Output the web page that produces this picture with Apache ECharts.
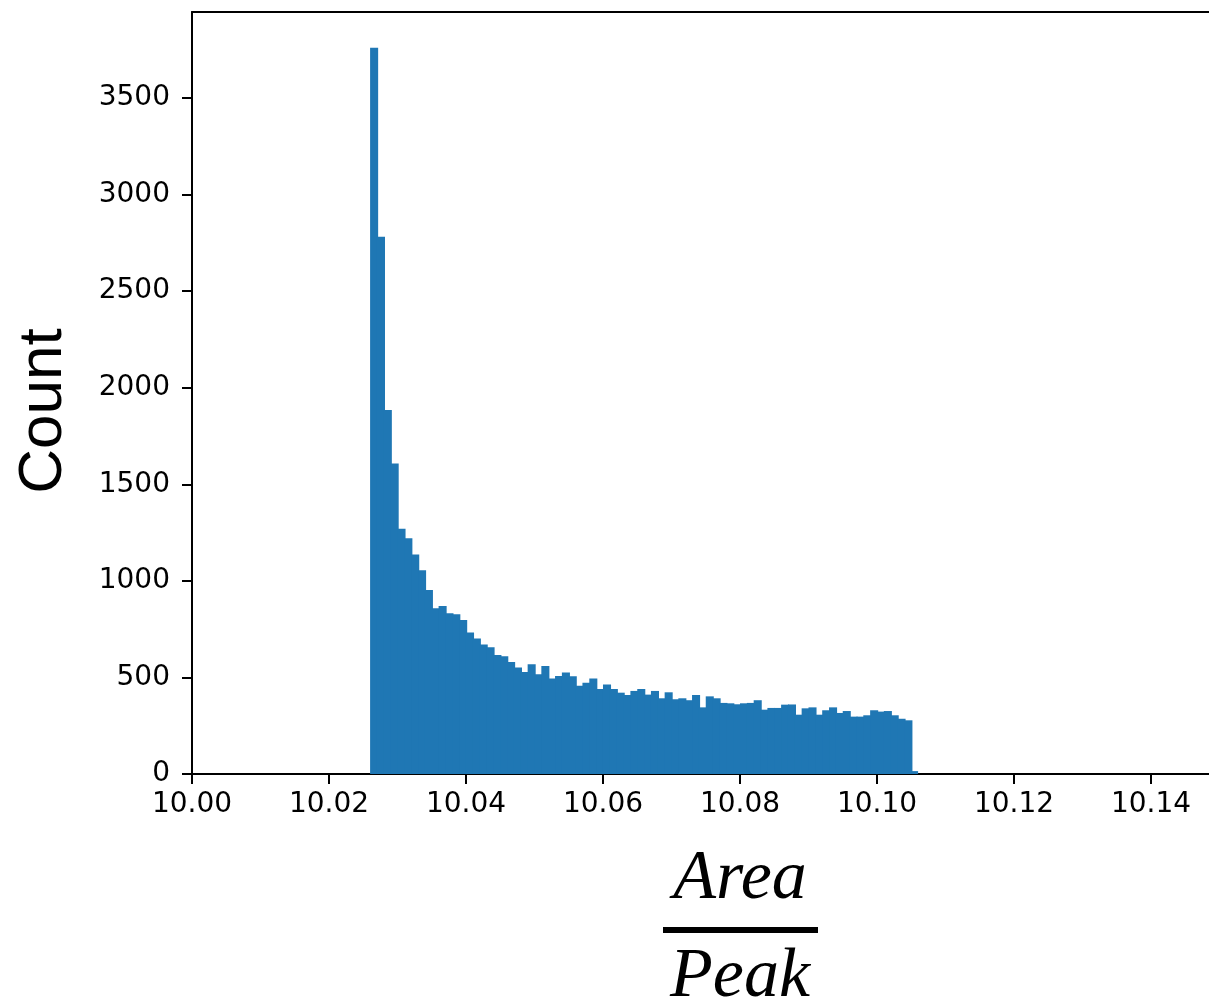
<!DOCTYPE html>
<html>
<head>
<meta charset="utf-8">
<style>
  html, body { margin: 0; padding: 0; background: #ffffff; }
  #chart { width: 1209px; height: 1007px; }
</style>
<script src="https://cdn.jsdelivr.net/npm/echarts@6/dist/echarts.min.js"></script>
</head>
<body>
<div id="chart"></div>
<script>
// Histogram bins: start at 10.026, width 0.001 (80 bins)
const binStart = 10.026;
const binWidth = 0.001;
const counts = [
  3760, 2782, 1885, 1607, 1270, 1220, 1137, 1055, 953, 858,
  870, 832, 827, 797, 732, 702, 671, 656, 616, 609,
  580, 552, 528, 568, 516, 559, 495, 507, 526, 506,
  457, 473, 495, 440, 464, 440, 421, 409, 430, 440,
  411, 430, 392, 423, 387, 392, 382, 409, 345, 402,
  392, 368, 366, 361, 366, 368, 382, 333, 342, 342,
  359, 360, 307, 340, 345, 307, 330, 345, 316, 326,
  297, 297, 304, 330, 323, 326, 304, 286, 278, 15
];
const xTicks = [10.00, 10.02, 10.04, 10.06, 10.08, 10.10, 10.12, 10.14];
const yTicks = [0, 500, 1000, 1500, 2000, 2500, 3000, 3500];
const yLabel = 'Count';
const xLabelNum = 'Area';
const xLabelDen = 'Peak';

const data = counts.map((c, i) => {
  const s = +(binStart + i * binWidth).toFixed(3);
  const e = +(binStart + (i + 1) * binWidth).toFixed(3);
  return [s, e, c];
});

const chart = echarts.init(document.getElementById('chart'));
const tickFont = { fontFamily: 'DejaVu Sans', fontSize: 28, color: '#000' };

chart.setOption({
  animation: false,
  backgroundColor: '#ffffff',
  grid: { left: 192, top: 12, width: 1017, height: 762, show: false },
  xAxis: [{
    type: 'value', min: 10.0, max: 10.14847,
    splitLine: { show: false },
    axisLine: { show: true, onZero: false, lineStyle: { color: '#000', width: 2 } },
    axisTick: { show: true, inside: false, length: 10, customValues: xTicks, lineStyle: { color: '#000', width: 2 } },
    axisLabel: { ...tickFont, margin: 17, customValues: xTicks, formatter: v => v.toFixed(2) }
  }, {
    type: 'value', position: 'top', min: 10.0, max: 10.14847,
    splitLine: { show: false },
    axisLine: { show: true, onZero: false, lineStyle: { color: '#000', width: 2 } },
    axisTick: { show: false }, axisLabel: { show: false }
  }],
  yAxis: {
    type: 'value', min: 0, max: 3945,
    splitLine: { show: false },
    axisLine: { show: true, lineStyle: { color: '#000', width: 2 } },
    axisTick: { show: true, inside: false, length: 10, customValues: yTicks, lineStyle: { color: '#000', width: 2 } },
    axisLabel: { ...tickFont, margin: 22, customValues: yTicks, formatter: v => String(v) }
  },
  series: [{
    type: 'custom',
    data: data,
    encode: { x: [0, 1], y: 2 },
    clip: true,
    renderItem: function (params, api) {
      const p0 = api.coord([api.value(0), api.value(2)]);
      const p1 = api.coord([api.value(1), 0]);
      const last = params.dataIndex === counts.length - 1;
      return {
        type: 'rect',
        shape: { x: p0[0], y: p0[1], width: p1[0] - p0[0] + (last ? 0 : 1.2), height: p1[1] - p0[1] },
        style: { fill: '#1f77b4' }
      };
    }
  }],
  graphic: [
    {
      type: 'text', x: 44, y: 411, rotation: Math.PI / 2,
      style: { text: yLabel, font: '62px "Liberation Sans"', fill: '#000', align: 'center', verticalAlign: 'middle' }
    },
    {
      type: 'text', x: 740, y: 880,
      style: { text: xLabelNum, font: 'italic 70px "Liberation Serif"', fill: '#000', align: 'center', verticalAlign: 'middle' }
    },
    {
      type: 'rect', shape: { x: 663, y: 927, width: 155, height: 6 },
      style: { fill: '#000' }
    },
    {
      type: 'text', x: 740, y: 978,
      style: { text: xLabelDen, font: 'italic 70px "Liberation Serif"', fill: '#000', align: 'center', verticalAlign: 'middle' }
    }
  ]
});
</script>
</body>
</html>
